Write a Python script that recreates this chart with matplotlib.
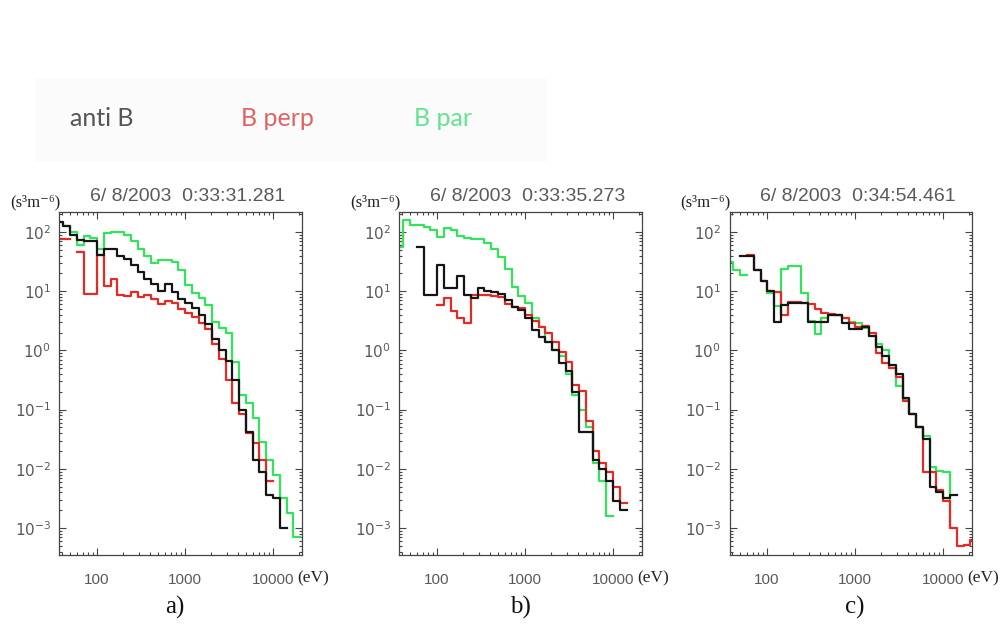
import numpy as np
import matplotlib
matplotlib.use('Agg')
import matplotlib.pyplot as plt
from matplotlib.ticker import LogLocator, NullFormatter
from matplotlib.patches import Rectangle

nan = np.nan

# energy channels (eV)
energy = [38, 45.4, 54.2, 64.7, 77.3, 92.3, 110, 131, 157, 187, 223, 267, 318,
          380, 454, 542, 647, 773, 923, 1101, 1313, 1567, 1871, 2233, 2666,
          3183, 3800, 4536, 5415, 6465, 7718, 9213, 11000, 13130, 15670,
          18710, 22340]

# log10 of phase space density (s^3 m^-6)
anti_b_a = [2.17, 2.1, 1.95, 1.86, 1.85, 1.85, 1.61, 1.72, 1.72, 1.6, 1.55, 1.45, 1.33,
            1.2, 1.12, 1.0, 1.13, 0.98, 0.87, 0.8, 0.72, 0.6, 0.44, 0.2, 0.0,
            -0.18, -0.5, -1.0, -1.38, -1.85, -2.05, -2.45, -2.5, -3.0, nan, nan, nan]
perp_a = [1.89, 1.89, nan, 1.67, 0.95, 0.95, 1.62, 1.08, 1.21, 0.93, 0.92, 0.99, 0.9,
          0.93, 0.86, 0.78, 0.84, 0.8, 0.7, 0.63, 0.56, 0.47, 0.36, 0.1, -0.15,
          -0.5, -0.88, -1.07, -1.4, -1.57, -1.85, -2.2, nan, nan, nan, nan, nan]
par_a = [2.17, 2.1, 2.0, 1.78, 1.93, 1.9, 1.72, 1.98, 2.0, 2.0, 1.95, 1.84, 1.72,
         1.6, 1.47, 1.53, 1.53, 1.5, 1.35, 1.1, 0.97, 0.88, 0.76, 0.48, 0.38,
         0.3, -0.2, -0.76, -0.88, -1.15, -1.55, -1.85, -2.1, -2.5, -2.75, -3.15, nan]

anti_b_b = [nan, nan, nan, 1.75, 0.94, 0.94, 1.44, 1.05, 1.05, 1.25, 0.94, 0.88, 1.05,
            1.0, 0.98, 0.96, 0.85, 0.73, 0.68, 0.55, 0.34, 0.23, 0.15, 0.0, -0.22,
            -0.35, -0.7, -1.38, -1.37, -1.85, -2.0, -2.2, -2.55, -2.7, nan, nan, nan]
perp_b = [nan, nan, nan, nan, nan, nan, 0.77, 0.88, 0.66, 0.55, 0.47, 0.94, 0.93,
          0.94, 0.92, 0.91, 0.78, 0.74, 0.72, 0.6, 0.5, 0.4, 0.3, 0.15, -0.02,
          -0.2, -0.58, -0.68, -1.2, -1.7, -1.9, -2.05, -2.3, -2.58, nan, nan, nan]
par_b = [1.75, 2.2, 2.12, 2.12, 2.09, 2.03, 1.92, 2.06, 2.04, 1.93, 1.9, 1.88, 1.89,
         1.82, 1.72, 1.58, 1.38, 1.07, 0.92, 0.8, 0.55, 0.4, 0.15, 0.0, -0.1,
         -0.4, -0.75, -1.0, -1.3, -1.9, -2.2, -2.8, nan, nan, nan, nan, nan]

anti_b_c = [nan, nan, 1.6, 1.6, 1.35, 1.18, 1.0, 0.48, 0.77, 0.8, 0.8, 0.8, 0.48,
            0.48, 0.48, 0.6, 0.6, 0.47, 0.36, 0.36, 0.4, 0.25, 0.05, -0.1, -0.25,
            -0.4, -0.8, -1.07, -1.3, -1.5, -2.3, -2.4, -2.5, -2.45, nan, nan, nan]
perp_c = [nan, nan, nan, 1.62, 1.35, 1.18, 1.0, 0.98, 0.6, 0.82, 0.82, 0.8, 0.78,
          0.7, 0.64, 0.62, 0.6, 0.55, 0.47, 0.4, 0.42, 0.3, -0.05, -0.22, -0.3,
          -0.45, -0.85, -1.07, -1.3, -2.05, -2.05, -2.35, -2.55, -3.0, -3.3, -3.28, -3.2]
par_c = [1.5, 1.35, 1.27, nan, nan, nan, 0.97, 0.75, 1.37, 1.43, 1.43, 0.97, 0.5,
         0.27, 0.55, 0.6, 0.6, 0.55, 0.48, 0.46, 0.38, 0.25, 0.1, 0.0, -0.3,
         -0.6, -0.82, -1.07, -1.3, -1.45, -1.97, -2.03, -2.05, -3.0, nan, nan, nan]

panel_letters = ['a)', 'b)', 'c)']
panel_times = ['6/ 8/2003  0:33:31.281', '6/ 8/2003  0:33:35.273', '6/ 8/2003  0:34:54.461']
anti_b = [anti_b_a, anti_b_b, anti_b_c]
perp = [perp_a, perp_b, perp_c]
par = [par_a, par_b, par_c]

col_anti = '#151515'
col_perp = '#e42a24'
col_par = '#33e35c'
grey = '#5a5a5a'
sans = ['Liberation Sans Narrow', 'Liberation Sans', 'DejaVu Sans']
serif = ['Liberation Serif', 'DejaVu Serif']

fig = plt.figure(figsize=(10.02, 6.33), dpi=100)

# legend strip
fig.patches.append(Rectangle((35 / 1002, 1 - 162 / 633), 512 / 1002, 84 / 633,
                             transform=fig.transFigure, facecolor='#fbfbfb',
                             edgecolor='none', zorder=0))
fig.text(102 / 1002, 1 - 118 / 633, 'anti B', color='#555555', fontsize=18,
         family='Lato', ha='center', va='center')
fig.text(277 / 1002, 1 - 118 / 633, 'B perp', color='#e06262', fontsize=18,
         family='Lato', ha='center', va='center')
fig.text(443 / 1002, 1 - 118 / 633, 'B par', color='#62e48e', fontsize=18,
         family='Lato', ha='center', va='center')

lefts = [59.3, 399.3, 729.5]
letter_x = [175, 520, 855]

for i in range(3):
    ax = fig.add_axes([lefts[i] / 1002, 1 - 555 / 633, 242.4 / 1002, 343.3 / 633])
    e = np.array(energy)
    ax.plot(e, 10 ** np.array(par[i]), color=col_par, lw=1.6, drawstyle='steps-mid')
    ax.plot(e, 10 ** np.array(perp[i]), color=col_perp, lw=1.6, drawstyle='steps-mid')
    ax.plot(e, 10 ** np.array(anti_b[i]), color=col_anti, lw=1.6, drawstyle='steps-mid')

    ax.set_xscale('log')
    ax.set_yscale('log')
    ax.set_xlim(37.6, 21400)
    ax.set_ylim(10 ** -3.456, 10 ** 2.343)

    ax.set_xticks([100, 1000, 10000])
    ax.set_xticklabels(['100', '1000', '10000'])
    ax.xaxis.set_minor_locator(LogLocator(base=10, subs=np.arange(2, 10)))
    ax.xaxis.set_minor_formatter(NullFormatter())
    ax.set_yticks([1e-3, 1e-2, 1e-1, 1, 10, 100])
    ax.set_yticklabels([r'$10^{-3}$', r'$10^{-2}$', r'$10^{-1}$', r'$10^{0}$',
                        r'$10^{1}$', r'$10^{2}$'])
    ax.yaxis.set_minor_locator(LogLocator(base=10, subs=np.arange(2, 10)))
    ax.yaxis.set_minor_formatter(NullFormatter())

    ax.tick_params(which='both', direction='in', top=True, right=True,
                   color='#444444', width=0.8)
    ax.tick_params(which='major', length=5)
    ax.tick_params(which='minor', length=2.5)
    ax.tick_params(axis='x', which='major', pad=13, labelsize=11, labelcolor=grey)
    ax.tick_params(axis='y', which='major', pad=6, labelsize=11, labelcolor=grey)
    for lab in ax.get_xticklabels() + ax.get_yticklabels():
        lab.set_family(sans)
    for sp in ax.spines.values():
        sp.set_color('#444444')
        sp.set_linewidth(0.9)

    ax.text(0.53, 1.045, panel_times[i], transform=ax.transAxes, ha='center',
            va='center', fontsize=14, color=grey, family=sans)
    ax.text(0.005, 1.028, '(s³m⁻⁶)', transform=ax.transAxes, ha='right',
            va='center', fontsize=12, color='#222222', family=serif)
    ax.text(0.98, -0.067, '(eV)', transform=ax.transAxes, ha='left',
            va='center', fontsize=12.5, color='#222222', family=serif)
    fig.text(letter_x[i] / 1002, 1 - 607 / 633, panel_letters[i], ha='center',
             va='center', fontsize=18, color='#111111', family=serif)

fig.savefig('out.png', dpi=100)
